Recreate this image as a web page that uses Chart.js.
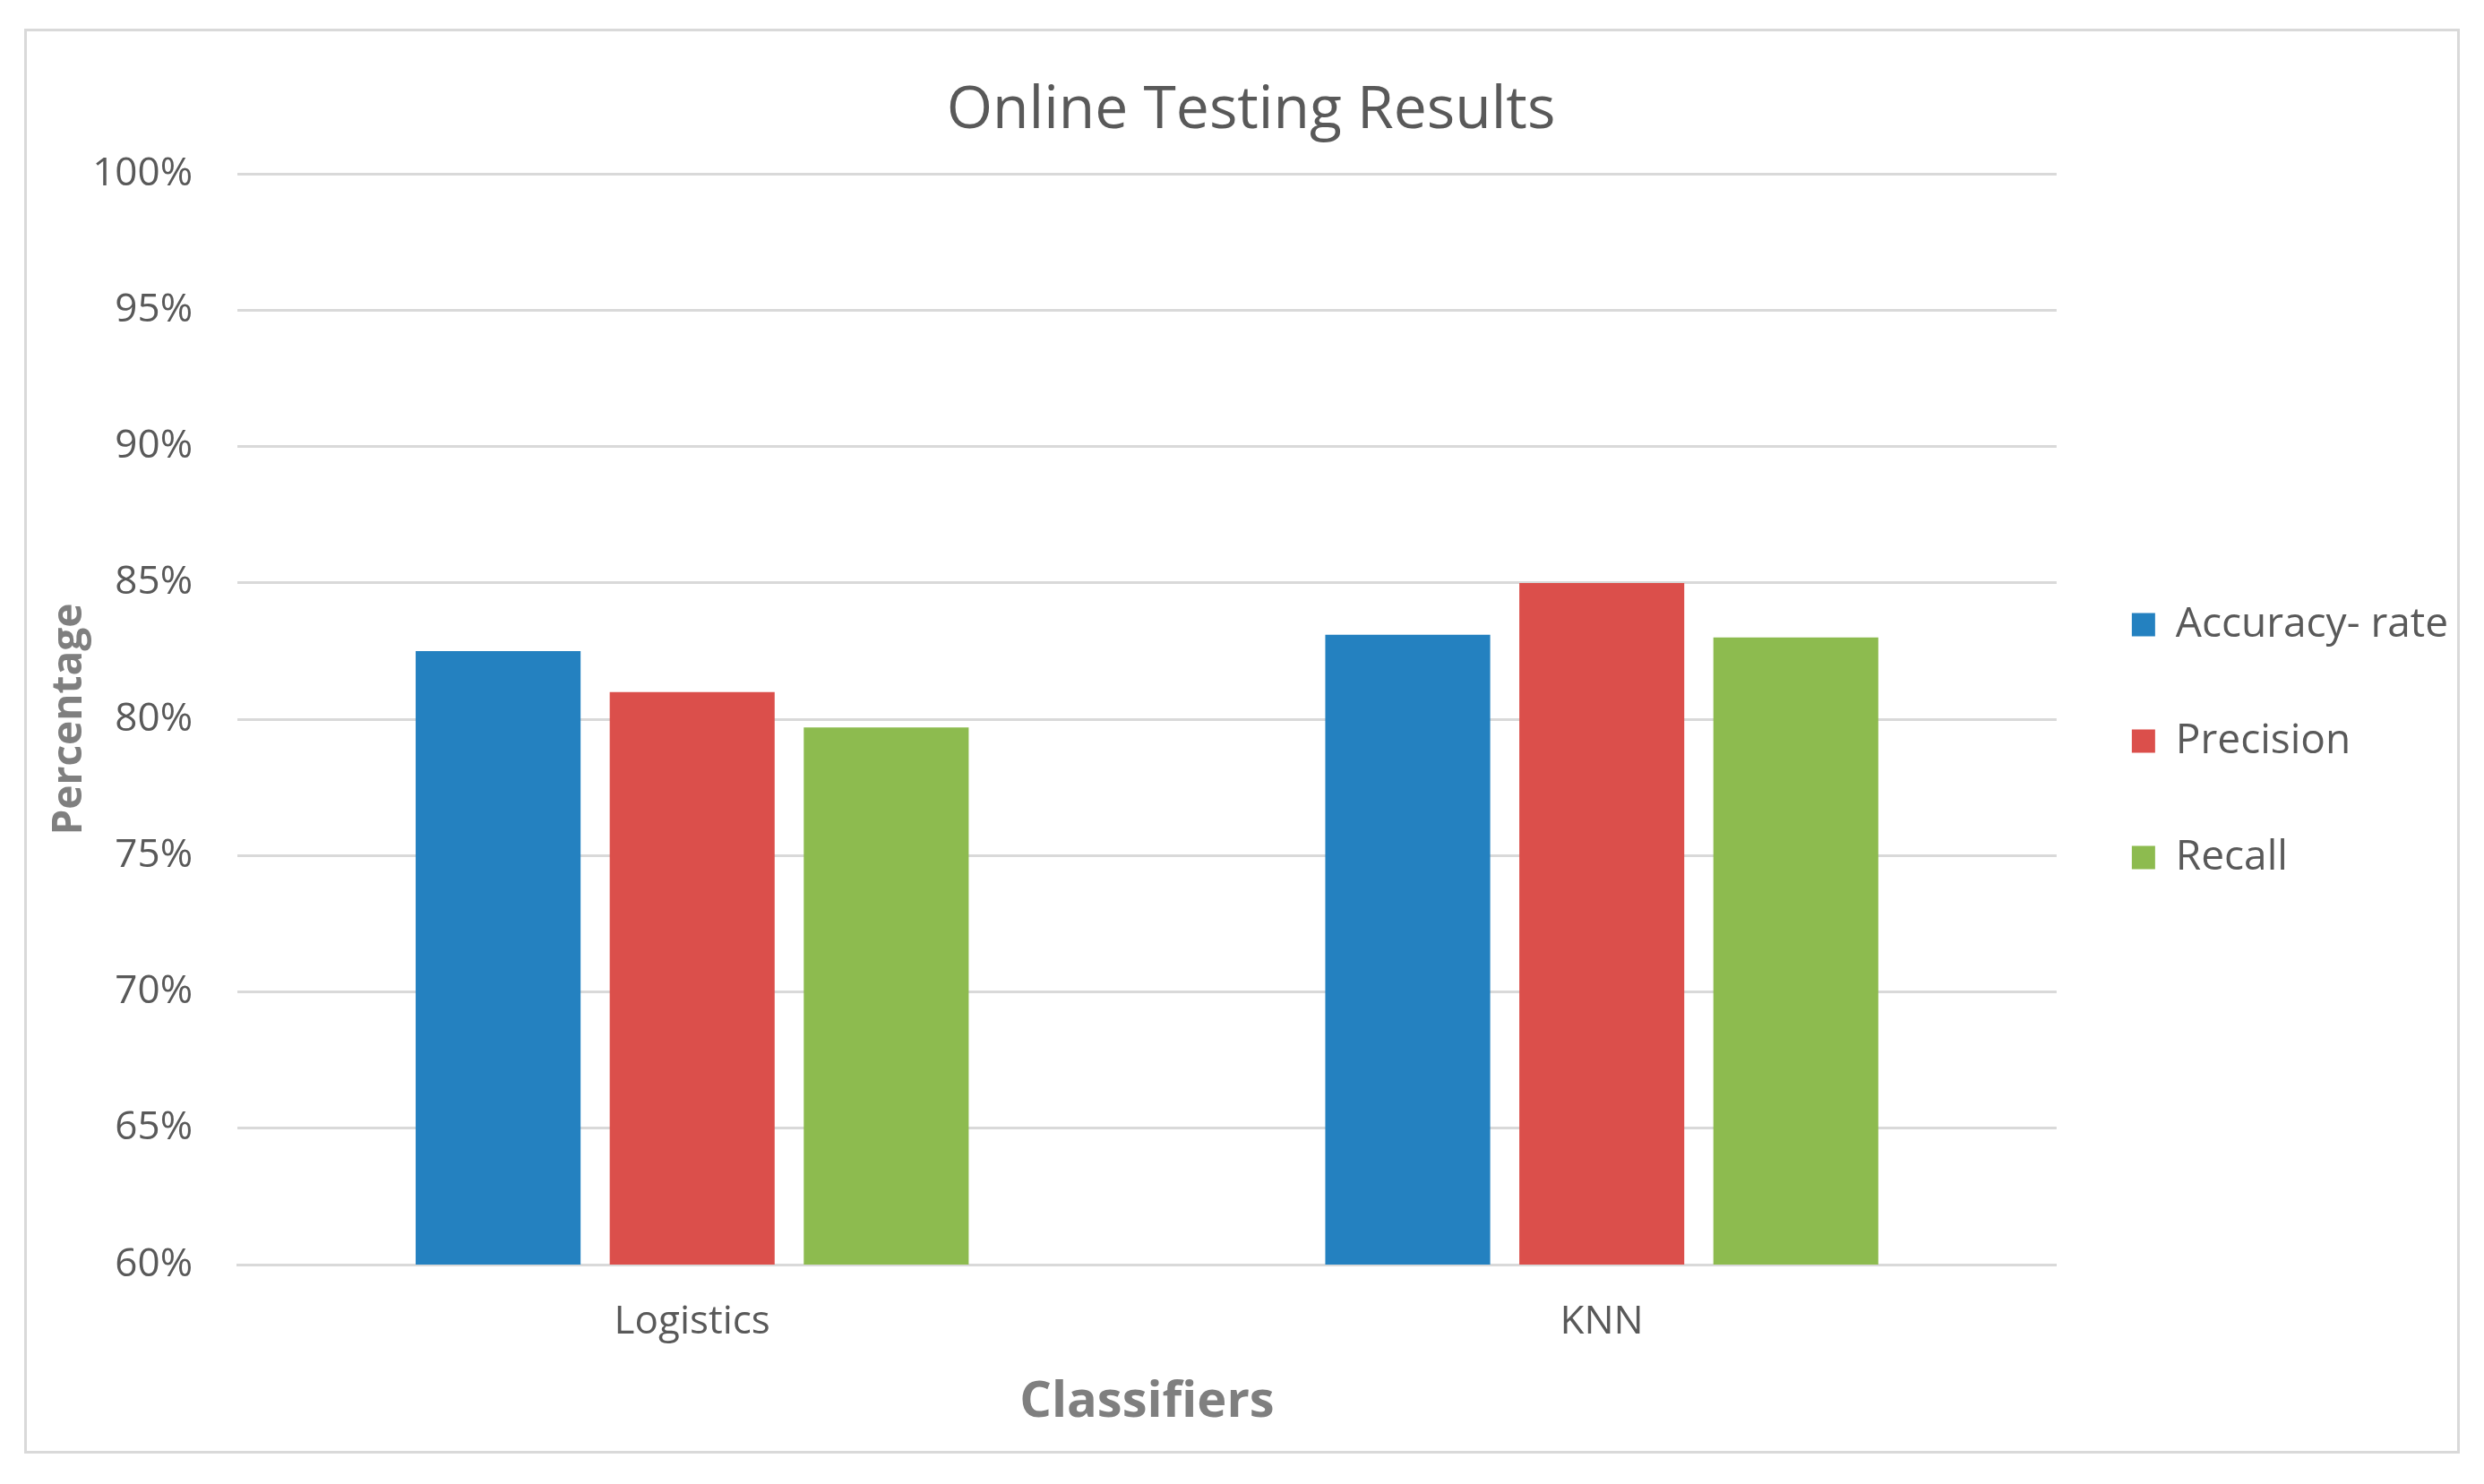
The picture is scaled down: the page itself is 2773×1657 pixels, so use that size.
<!DOCTYPE html>
<html>
<head>
<meta charset="utf-8">
<script src="https://cdn.jsdelivr.net/npm/chart.js@4"></script>
<style>
  body { margin: 0; background: #fff; }
  #box { position: absolute; left: 27px; top: 32px; width: 2713px; height: 1585px; border: 3px solid #d9d9d9; }
</style>
</head>
<body>
<div id="box"><canvas id="chart"></canvas></div>
<script>
const categories = ['Logistics', 'KNN'];
const accuracy = [82.5, 83.1];
const precision = [81.0, 85.0];
const recall = [79.7, 83.0];

const font = 'Open Sans, Noto Sans, sans-serif';

const ctx = document.getElementById('chart').getContext('2d');
new Chart(ctx, {
  type: 'bar',
  data: {
    labels: categories,
    datasets: [
      { label: 'Accuracy- rate', data: accuracy, backgroundColor: '#2481c0' },
      { label: 'Precision', data: precision, backgroundColor: '#db4f4b' },
      { label: 'Recall', data: recall, backgroundColor: '#8dbb4f' }
    ]
  },
  options: {
    responsive: true,
    maintainAspectRatio: false,
    animation: false,
    datasets: { bar: { categoryPercentage: 0.64, barPercentage: 0.85 } },
    layout: { padding: { left: 20, right: 0, top: 20, bottom: 20 } },
    plugins: {
      title: {
        display: true,
        text: 'Online Testing Results',
        color: '#595959',
        font: { family: font, size: 66, weight: 'normal' },
        padding: { top: 30, bottom: 30 }
      },
      legend: {
        position: 'right',
        labels: {
          color: '#595959',
          font: { family: font, size: 46 },
          boxWidth: 26,
          boxHeight: 26,
          padding: 84
        }
      },
      tooltip: { enabled: false }
    },
    scales: {
      x: {
        grid: { display: false },
        border: { color: '#d9d9d9', width: 3 },
        ticks: { color: '#595959', font: { family: font, size: 44 }, padding: 30 },
        title: { display: true, text: 'Classifiers', color: '#7f7f7f', font: { family: font, size: 56, weight: 'bold' }, padding: 0 }
      },
      y: {
        min: 60,
        max: 100,
        border: { display: false },
        grid: { color: '#d9d9d9', lineWidth: 3, drawTicks: false },
        ticks: { stepSize: 5, color: '#595959', font: { family: font, size: 44 }, padding: 50, callback: v => v + '%' },
        title: { display: true, text: 'Percentage', color: '#7f7f7f', font: { family: font, size: 46, weight: 'bold' }, padding: 0 },
        afterFit: s => { s.width = 215; }
      }
    }
  }
});
</script>
</body>
</html>
